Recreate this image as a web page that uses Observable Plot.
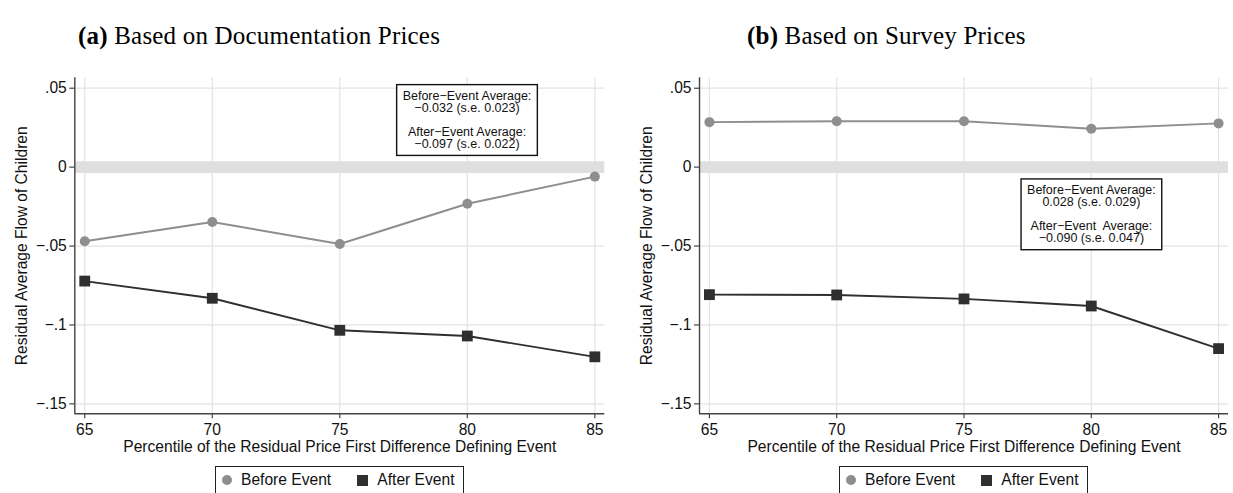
<!DOCTYPE html>
<html>
<head>
<meta charset="utf-8">
<script src="https://cdn.jsdelivr.net/npm/d3@7"></script>
<script src="https://cdn.jsdelivr.net/npm/@observablehq/plot@0.6"></script>
<style>
  html, body { margin: 0; padding: 0; background: #fff; }
  #wrap { position: relative; width: 1233px; height: 493px; overflow: hidden; background: #fff;
          font-family: "Liberation Sans", Arial, Helvetica, sans-serif; color: #111; }
  .title { position: absolute; top: 23px; font-family: "Liberation Serif", "Times New Roman", serif;
           font-size: 25px; line-height: 25px; letter-spacing: 0.2px; white-space: nowrap; color: #000; }
  .title b { font-weight: bold; }
  .panel { position: absolute; top: 60px; }
  .panel svg text { white-space: pre; }
  .legend { position: absolute; top: 466px; height: 40px; box-sizing: border-box; border: 1px solid #222;
            background: #fff; display: flex; align-items: flex-start; font-size: 15.6px; }
  .legend .item { display: flex; align-items: center; height: 26px; }
  .legend .sym { display: inline-block; }
</style>
</head>
<body>
<div id="wrap"></div>
<script>
// ---- data ----
const percentiles = [65, 70, 75, 80, 85];
const docBefore    = [-0.0470, -0.0348, -0.0487, -0.0232, -0.0060];
const docAfter     = [-0.0722, -0.0831, -0.1034, -0.1070, -0.1202];
const surveyBefore = [0.0285, 0.0291, 0.0291, 0.0243, 0.0277];
const surveyAfter  = [-0.0808, -0.0810, -0.0835, -0.0880, -0.1150];
const seriesNames  = ["Before Event", "After Event"];
const yTicks       = [0.05, 0, -0.05, -0.1, -0.15];
const yTickLabels  = [".05", "0", "\u2212.05", "\u2212.1", "\u2212.15"];
const xTicks       = [65, 70, 75, 80, 85];
const xTickLabels  = ["65", "70", "75", "80", "85"];
const panelLetters = ["(a)", "(b)"];
const panelTitles  = ["Based on Documentation Prices", "Based on Survey Prices"];
const xLabel = "Percentile of the Residual Price First Difference Defining Event";
const yLabel = "Residual Average Flow of Children";
const noteLines = [
  ["Before\u2212Event Average:", "\u22120.032 (s.e. 0.023)", "", "After\u2212Event Average:", "\u22120.097 (s.e. 0.022)"],
  ["Before\u2212Event Average:", "0.028 (s.e. 0.029)", "", "After\u2212Event  Average:", "\u22120.090 (s.e. 0.047)"]
];

// ---- styling / layout ----
const beforeColor = "#8e8e8e";
const afterColor = "#2f2f2f";
const xDomain = [64.61, 85.39];
const yDomain = [-0.1563, 0.0566];
const fs = 15.6;

const panels = [
  {left: 0,   width: 616, mL: 74.3, mR: 11.7, before: docBefore,    after: docAfter,    noteDx: -137.8, noteDy: 13.8,  titleLeft: 78,  legendLeft: 215},
  {left: 616, width: 617, mL: 83,   mR: 5,    before: surveyBefore, after: surveyAfter, noteDx: -137.1, noteDy: 108.1, titleLeft: 747, legendLeft: 839}
];

const wrap = document.getElementById("wrap");

panels.forEach((p, i) => {
  const before = percentiles.map((x, k) => ({x, y: p.before[k]}));
  const after = percentiles.map((x, k) => ({x, y: p.after[k]}));
  const note = noteLines[i].join("\n");

  const chart = Plot.plot({
    width: p.width,
    height: 400,
    marginLeft: p.mL,
    marginRight: p.mR,
    marginTop: 17.3,
    marginBottom: 46.7,
    x: {domain: xDomain},
    y: {domain: yDomain},
    style: {fontFamily: "'Liberation Sans', Arial, sans-serif", fontSize: fs + "px", color: "#111", background: "#fff", overflow: "visible"},
    marks: [
      Plot.gridX(xTicks, {stroke: "#e3e3e3", strokeOpacity: 1, strokeWidth: 1.2}),
      Plot.gridY(yTicks, {stroke: "#e3e3e3", strokeOpacity: 1, strokeWidth: 1.2}),
      Plot.ruleY([0], {stroke: "#dfdfdf", strokeWidth: 11.6}),
      Plot.ruleX([xDomain[0]], {stroke: "#444", strokeWidth: 1.4}),
      Plot.ruleY([yDomain[0]], {stroke: "#444", strokeWidth: 1.4}),
      Plot.axisY(yTicks, {tickSize: 5, tickPadding: 3, stroke: "#444", strokeWidth: 1.2,
        tickFormat: d => yTickLabels[yTicks.indexOf(d)], label: null, fontSize: fs, fill: "#111"}),
      Plot.axisX(xTicks, {tickSize: 5, tickPadding: 5, stroke: "#444", strokeWidth: 1.2,
        tickFormat: d => xTickLabels[xTicks.indexOf(d)], label: null, fontSize: fs, fill: "#111"}),
      Plot.line(before, {x: "x", y: "y", stroke: beforeColor, strokeWidth: 1.9}),
      Plot.line(after, {x: "x", y: "y", stroke: afterColor, strokeWidth: 1.9}),
      Plot.dot(before, {x: "x", y: "y", symbol: "circle", r: 5, fill: beforeColor, stroke: "none"}),
      Plot.dot(after, {x: "x", y: "y", symbol: "square", r: 6.1, fill: afterColor, stroke: "none"}),
      Plot.text([xLabel], {text: d => d, frameAnchor: "bottom", dy: 33.2, lineAnchor: "middle", fontSize: fs, fill: "#111"}),
      Plot.text([yLabel], {text: d => d, frameAnchor: "left", rotate: -90, dx: -53, lineAnchor: "middle", textAnchor: "middle", fontSize: fs, fill: "#111"}),
      Plot.text([note], {text: d => d, frameAnchor: "top-right", dx: p.noteDx, dy: p.noteDy, textAnchor: "middle",
        lineAnchor: "top", fontSize: 12.5, lineHeight: 0.96, fill: "#111"})
    ]
  });

  const holder = document.createElement("div");
  holder.className = "panel";
  holder.style.left = p.left + "px";
  holder.appendChild(chart);
  wrap.appendChild(holder);

  // frame around the annotation text
  const svgRect = chart.getBoundingClientRect();
  const noteText = Array.from(chart.querySelectorAll("text")).find(t => t.textContent.startsWith("Before"));
  if (noteText) {
    const r = noteText.getBoundingClientRect();
    const padX = 6, padTop = 4.5, padBot = 4.3;
    const rect = document.createElementNS("http://www.w3.org/2000/svg", "rect");
    rect.setAttribute("x", r.left - svgRect.left - padX);
    rect.setAttribute("y", r.top - svgRect.top - padTop);
    rect.setAttribute("width", r.width + 2 * padX);
    rect.setAttribute("height", r.height + padTop + padBot);
    rect.setAttribute("fill", "#fff");
    rect.setAttribute("stroke", "#111");
    rect.setAttribute("stroke-width", "1.4");
    const g = noteText.closest("g[aria-label='text']") || noteText.parentNode;
    g.parentNode.insertBefore(rect, g);
  }

  // title
  const t = document.createElement("div");
  t.className = "title";
  t.style.left = p.titleLeft + "px";
  t.innerHTML = "<b>" + panelLetters[i] + "</b> " + panelTitles[i];
  wrap.appendChild(t);

  // legend
  const lg = document.createElement("div");
  lg.className = "legend";
  lg.style.left = p.legendLeft + "px";
  lg.style.width = "249px";
  const syms = [
    `<span class="sym" style="width:10px;height:10px;border-radius:50%;background:${beforeColor};margin-left:5.7px;margin-right:9.3px"></span>`,
    `<span class="sym" style="width:11px;height:11px;background:${afterColor};margin-left:26.2px;margin-right:9px"></span>`
  ];
  lg.innerHTML = seriesNames.map((s, k) => `<span class="item">${syms[k]}<span>${s}</span></span>`).join("");
  wrap.appendChild(lg);
});
</script>
</body>
</html>
